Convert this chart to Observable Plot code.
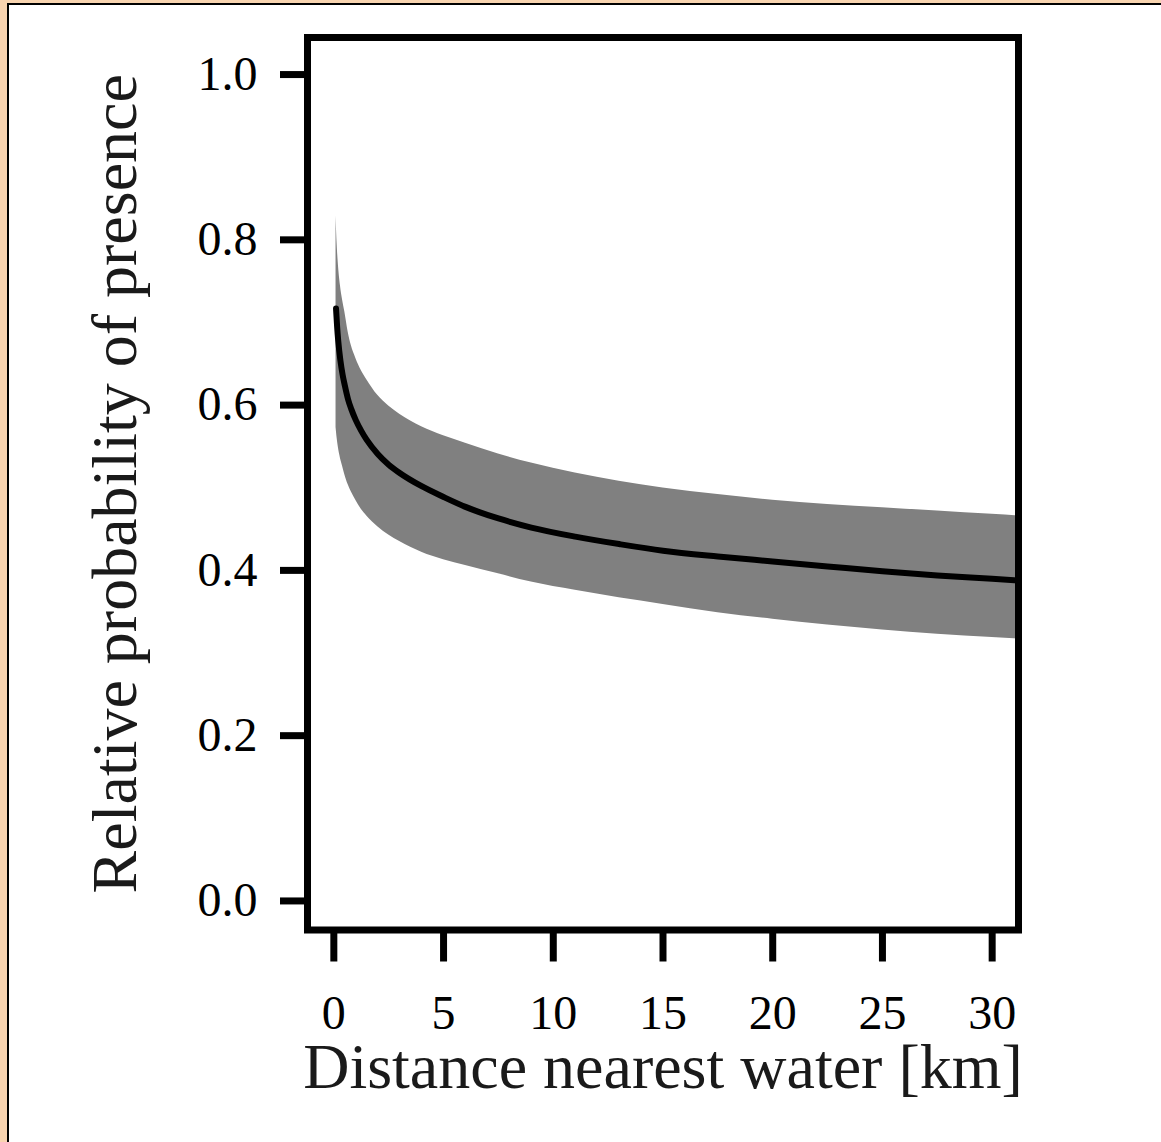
<!DOCTYPE html>
<html><head><meta charset="utf-8">
<script src="https://cdn.jsdelivr.net/npm/d3@7"></script>
<script src="https://cdn.jsdelivr.net/npm/@observablehq/plot@0.6"></script>
<style>
html,body{margin:0;padding:0;background:#F8D4B0;width:1161px;height:1142px;overflow:hidden}
#box{position:absolute;left:7px;top:3px;width:1152px;height:1137px;background:#fff;border-left:2px solid #000;border-top:2px solid #000;overflow:hidden}
svg{display:block}
</style></head><body><div id="box"></div>
<script>
const distance = [0.1, 0.15, 0.2, 0.3, 0.4, 0.5, 0.65, 0.8, 1.0, 1.25, 1.5, 2.0, 2.5, 3.0, 4.0, 5.0, 6.0, 7.5, 9.0, 11, 13, 15, 17.5, 20, 22.5, 25, 27.5, 30, 31.2];
const fit      = [0.712, 0.690, 0.673, 0.649, 0.632, 0.619, 0.602, 0.590, 0.577, 0.564, 0.553, 0.536, 0.523, 0.513, 0.497, 0.484, 0.472, 0.458, 0.447, 0.436, 0.427, 0.419, 0.412, 0.406, 0.400, 0.394, 0.389, 0.385, 0.383];
const upper    = [0.824, 0.790, 0.768, 0.740, 0.722, 0.708, 0.684, 0.667, 0.652, 0.637, 0.626, 0.607, 0.594, 0.584, 0.569, 0.558, 0.549, 0.536, 0.525, 0.513, 0.503, 0.495, 0.487, 0.480, 0.475, 0.471, 0.467, 0.463, 0.461];
const lower    = [0.568, 0.555, 0.545, 0.531, 0.521, 0.511, 0.499, 0.490, 0.480, 0.469, 0.461, 0.448, 0.438, 0.430, 0.417, 0.408, 0.401, 0.391, 0.381, 0.371, 0.362, 0.354, 0.344, 0.336, 0.329, 0.323, 0.318, 0.314, 0.312];
const xTicks = [0, 5, 10, 15, 20, 25, 30];
const yTicks = [0, 0.2, 0.4, 0.6, 0.8, 1.0];
const xTitle = "Distance nearest water [km]";
const yTitle = "Relative probability of presence";

const rows = distance.map((d, i) => ({d, fit: fit[i], lo: lower[i], hi: upper[i]}));
const serif = "'Liberation Serif','Times New Roman',Times,serif";

const chart = Plot.plot({
  width: 1152, height: 1137,
  marginLeft: 298, marginRight: 143, marginTop: 32, marginBottom: 212.5,
  style: {fontFamily: serif, background: "transparent", color: "#000", overflow: "visible"},
  x: {domain: [-1.2, 31.2]},
  y: {domain: [-0.04, 1.04]},
  marks: [
    Plot.areaY(rows, {x: "d", y1: "lo", y2: "hi", fill: "#808080", curve: "monotone-x", clip: true}),
    Plot.line(rows, {x: "d", y: "fit", stroke: "#000", strokeWidth: 6, curve: "monotone-x", clip: true}),
    Plot.frame({stroke: "#000", strokeWidth: 7}),
    Plot.axisX({ticks: xTicks, tickSize: 32, tickPadding: 32.5, fontSize: 48, strokeWidth: 7, label: null, tickFormat: d => String(d)}),
    Plot.axisY({ticks: yTicks, tickSize: 27, tickPadding: 23, fontSize: 48, strokeWidth: 7, label: null, tickFormat: d3.format(".1f"), dy: 4}),
    Plot.text([xTitle], {text: d => d, frameAnchor: "bottom", lineAnchor: "middle", textAnchor: "middle", dy: 138, fontSize: 64, fill: "#1a1a1a"}),
    Plot.text([yTitle], {text: d => d, frameAnchor: "left", lineAnchor: "middle", textAnchor: "middle", rotate: -90, dx: -191.5, fontSize: 64, fill: "#1a1a1a"})
  ]
});
document.getElementById("box").appendChild(chart);
</script>
</body></html>
